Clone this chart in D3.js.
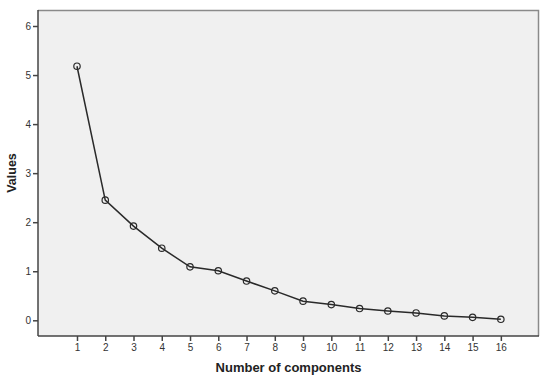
<!DOCTYPE html>
<html><head><meta charset="utf-8">
<script src="https://cdn.jsdelivr.net/npm/d3@7"></script>
<style>body{margin:0;background:#fff}svg{display:block}</style>
</head><body>
<svg id="c" width="550" height="377"></svg>
<script>
const components = [1,2,3,4,5,6,7,8,9,10,11,12,13,14,15,16];
const values = [5.18,2.45,1.92,1.47,1.09,1.01,0.80,0.60,0.39,0.32,0.24,0.19,0.15,0.09,0.06,0.02];
const yTicks = [0,1,2,3,4,5,6];
const xLabel = "Number of components";
const yLabel = "Values";

const svg = d3.select("#c");
const L=38,T=10,R=539,B=336;
const x = d3.scaleLinear().domain([-0.38,17.35]).range([L,R]);
const y = d3.scaleLinear().domain([0,6]).range([320.3,26]);

svg.append("rect").attr("x",L).attr("y",T).attr("width",R-L).attr("height",B-T).attr("fill","#f0f0f0");
svg.append("path").attr("d",`M${L},${T+0.5}H${R-0.5}V${B}`).attr("fill","none").attr("stroke","#8a8a8a").attr("stroke-width",1.5);

const gx = svg.append("g").attr("transform",`translate(0,${B})`)
  .call(d3.axisBottom(x).tickValues(components).tickFormat(d3.format("d")).tickSize(5).tickPadding(3).tickSizeOuter(0));
const gy = svg.append("g").attr("transform",`translate(${L},0)`)
  .call(d3.axisLeft(y).tickValues(yTicks).tickFormat(d3.format("d")).tickSize(5).tickPadding(2).tickSizeOuter(0));
[gx,gy].forEach(g=>{
  g.select(".domain").attr("stroke","#444").attr("stroke-width",1.5);
  g.selectAll(".tick line").attr("stroke","#444").attr("stroke-width",1.5);
  g.selectAll(".tick text").attr("fill","#333").style("font-family","Arial, 'Liberation Sans', sans-serif").style("font-size","10px");
});
gy.select(".domain").attr("d",`M0,${T}V${B}`);
gx.select(".domain").attr("d",`M${L},0H${R}`);

const line = d3.line().x((d,i)=>x(components[i])).y(d=>y(d));
svg.append("path").datum(values).attr("d",line).attr("fill","none").attr("stroke","#2a2a2a").attr("stroke-width",1.5);
svg.selectAll("circle.p").data(values).enter().append("circle")
  .attr("cx",(d,i)=>x(components[i])).attr("cy",d=>y(d)).attr("r",3.2)
  .attr("fill","none").attr("stroke","#2a2a2a").attr("stroke-width",1.2);

svg.append("text").attr("x",(L+R)/2).attr("y",372).attr("text-anchor","middle")
  .style("font-family","Arial, 'Liberation Sans', sans-serif").style("font-weight","bold").style("font-size","13px").attr("fill","#222").text(xLabel);
svg.append("text").attr("transform",`translate(16,${(T+B)/2}) rotate(-90)`).attr("text-anchor","middle")
  .style("font-family","Arial, 'Liberation Sans', sans-serif").style("font-weight","bold").style("font-size","12.5px").attr("fill","#222").text(yLabel);
</script>
</body></html>
